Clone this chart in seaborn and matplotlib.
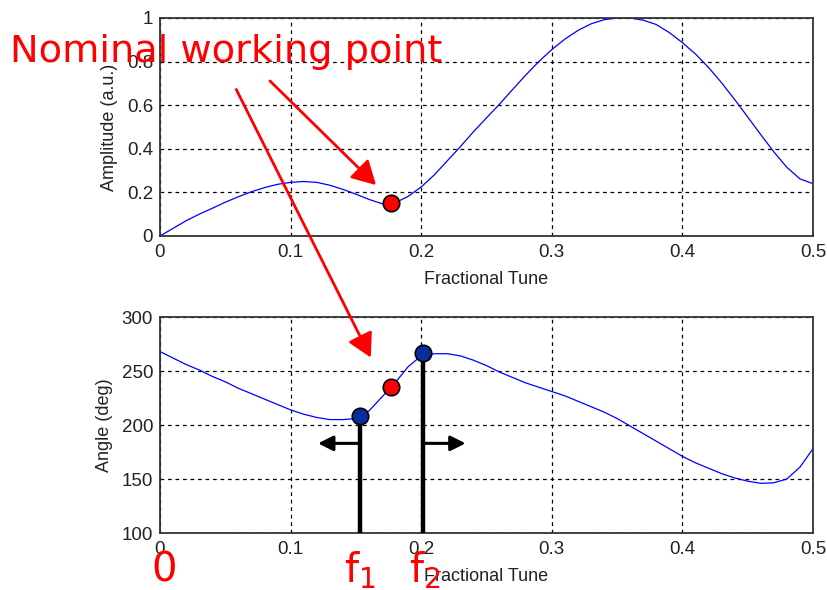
import numpy as np
import pandas as pd
import matplotlib
matplotlib.use("Agg")
import matplotlib.pyplot as plt
import seaborn as sns
from matplotlib.patches import FancyArrowPatch

# ---- data ----
tune = [round(0.01 * i, 2) for i in range(51)]
amplitude = [0.0, 0.035, 0.07, 0.10, 0.127, 0.155, 0.18, 0.203, 0.222, 0.237,
             0.246, 0.25, 0.246, 0.233, 0.214, 0.192, 0.168, 0.148, 0.152, 0.182,
             0.225, 0.28, 0.345, 0.41, 0.478, 0.542, 0.605, 0.672, 0.738, 0.80,
             0.855, 0.903, 0.943, 0.973, 0.992, 1.0, 1.0, 0.99, 0.97, 0.933,
             0.887, 0.835, 0.773, 0.703, 0.626, 0.546, 0.465, 0.386, 0.315, 0.262,
             0.24]
angle = [268, 262, 256, 251, 245, 240, 234, 229, 224, 219,
         214, 210, 207, 205, 205, 206, 213, 226, 239, 254,
         264, 266, 266, 264, 260, 255, 249, 244, 239, 235,
         231, 227, 222, 217, 212, 206, 199, 192, 185, 178,
         171, 165, 160, 155, 151, 148, 146, 146.5, 150, 161,
         178]
# phase trace starts from the axis floor at tune 0
angle_tune = [0.0] + tune
angle_vals = [100] + angle

nominal_tune = [0.177]
nominal_amp = [0.15]
nominal_angle = [235]
edge_tune = [0.153, 0.2016]
edge_angle = [208.6, 266.4]

xticks = [0, 0.1, 0.2, 0.3, 0.4, 0.5]
xticklabels = ["0", "0.1", "0.2", "0.3", "0.4", "0.5"]
amp_ticks = [0, 0.2, 0.4, 0.6, 0.8, 1.0]
amp_ticklabels = ["0", "0.2", "0.4", "0.6", "0.8", "1"]
ang_ticks = [100, 150, 200, 250, 300]
ang_ticklabels = ["100", "150", "200", "250", "300"]

sns.set_style("white")
plt.rcParams['font.family'] = ['Liberation Sans', 'DejaVu Sans']
plt.rcParams['mathtext.default'] = 'regular'

W, H = 828, 590
fig = plt.figure(figsize=(W / 100, H / 100), dpi=100)
ax1 = fig.add_axes([160 / W, 1 - 236 / H, (813 - 160) / W, (236 - 18) / H])
ax2 = fig.add_axes([160 / W, 1 - 533 / H, (813 - 160) / W, (533 - 317) / H])

df_amp = pd.DataFrame({"tune": tune, "amp": amplitude})
df_ang = pd.DataFrame({"tune": angle_tune, "ang": angle_vals})

sns.lineplot(data=df_amp, x="tune", y="amp", ax=ax1, color="#0000ff",
             linewidth=0.9, estimator=None, sort=False)
sns.lineplot(data=df_ang, x="tune", y="ang", ax=ax2, color="#0000ff",
             linewidth=0.9, estimator=None, sort=False)

# stems at f1, f2
ax2.vlines(edge_tune, 100, edge_angle, color="black", linewidth=3.2, zorder=4)

sns.scatterplot(x=nominal_tune, y=nominal_amp, ax=ax1, color="#ff0000",
                edgecolor="black", linewidth=1.2, s=140, zorder=6)
sns.scatterplot(x=nominal_tune, y=nominal_angle, ax=ax2, color="#ff0000",
                edgecolor="black", linewidth=1.2, s=140, zorder=6)
sns.scatterplot(x=edge_tune, y=edge_angle, ax=ax2, color="#0a2d9c",
                edgecolor="black", linewidth=1.2, s=140, zorder=6)

# horizontal black arrows
arrow_y = 183
ax2.annotate("", xy=(0.121, arrow_y), xytext=(edge_tune[0], arrow_y),
             arrowprops=dict(arrowstyle="-|>,head_length=0.9,head_width=0.45",
                             color="black", lw=2.2, shrinkA=0, shrinkB=0), zorder=5)
ax2.annotate("", xy=(0.234, arrow_y), xytext=(edge_tune[1], arrow_y),
             arrowprops=dict(arrowstyle="-|>,head_length=0.9,head_width=0.45",
                             color="black", lw=2.2, shrinkA=0, shrinkB=0), zorder=5)

for ax, yt, ytl, ylim, ylab in [
        (ax1, amp_ticks, amp_ticklabels, (0, 1), "Amplitude (a.u.)"),
        (ax2, ang_ticks, ang_ticklabels, (100, 300), "Angle (deg)")]:
    ax.set_xlim(0, 0.5)
    ax.set_ylim(*ylim)
    ax.set_xticks(xticks)
    ax.set_xticklabels(xticklabels)
    ax.set_yticks(yt)
    ax.set_yticklabels(ytl)
    ax.grid(True, color="black", linestyle=(0, (3, 3)), linewidth=0.9)
    ax.set_axisbelow(True)
    for s in ax.spines.values():
        s.set_color("#333333")
        s.set_linewidth(1.3)
        s.set_visible(True)
    ax.tick_params(labelsize=13.5, colors="#222222", direction="in",
                   length=3)
    ax.tick_params(axis="x", pad=6)
    ax.tick_params(axis="y", pad=5)
    ax.set_xlabel("Fractional Tune", fontsize=13, color="#222222", labelpad=7)
    ax.set_ylabel(ylab, fontsize=13, color="#222222", labelpad=6)

# red annotations (figure pixel coordinates)
def fx(px):
    return px / W

def fy(py):
    return 1 - py / H

fig.text(fx(10), fy(52), "Nominal working point", color="#ff0000",
         fontsize=27.5, family=["DejaVu Sans"], ha="left", va="center", zorder=10)

for (x0, y0), (x1, y1) in [((268, 79), (378, 187)), ((235, 87), (372, 360))]:
    fig.add_artist(FancyArrowPatch((fx(x0), fy(y0)), (fx(x1), fy(y1)),
                                   transform=fig.transFigure,
                                   arrowstyle="-|>,head_length=9,head_width=5",
                                   mutation_scale=1.6, color="#ff0000",
                                   lw=2.0, zorder=10))

fig.text(fx(164), fy(571), "0", color="#ff0000", fontsize=29,
         family=["DejaVu Sans"], ha="center", va="center")
fig.text(fx(360), fy(571), "f$_1$", color="#ff0000", fontsize=29,
         family=["DejaVu Sans"], ha="center", va="center")
fig.text(fx(425), fy(571), "f$_2$", color="#ff0000", fontsize=29,
         family=["DejaVu Sans"], ha="center", va="center")

fig.savefig("out.png", dpi=100)
